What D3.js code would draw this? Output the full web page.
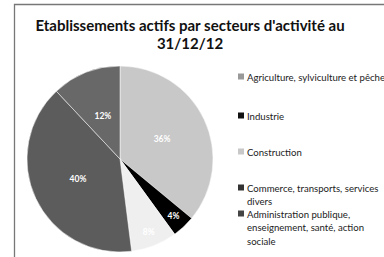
<!DOCTYPE html>
<html>
  <head>
    <meta charset="utf-8" />
    <title>Etablissements actifs</title>
    <style>
      body { margin: 0; background: #fff; font-family: 'Lato', sans-serif; }
      .title { font-weight: 700; font-size: 15px; fill: #111; }
      .legend text { font-size: 9.6px; fill: #222; }
      .pct { font-size: 8.5px; font-weight: 700; fill: #fff; }
    </style>
    <script src="https://d3js.org/d3.v7.min.js"></script>
  </head>
  <body>
    <div id="chart"></div>
    <script>
      const categories = [
        "Agriculture, sylviculture et pêche",
        "Industrie",
        "Construction",
        "Commerce, transports, services divers",
        "Administration publique, enseignement, santé, action sociale"
      ];
      const values = [36, 4, 8, 40, 12];
      const legendLines = [
        ["Agriculture, sylviculture et pêche"],
        ["Industrie"],
        ["Construction"],
        ["Commerce, transports, services", "divers"],
        ["Administration publique,", "enseignement, santé, action", "sociale"]
      ];

      const width = 384, height = 257;
      const cx = 120, cy = 159, r = 93;

      // slice shades: [inner, outer]
      const sliceShades = [["#b0b0b0", "#c8c8c8"], ["#050505", "#000"], ["#ffffff", "#efefef"],
                           ["#747474", "#5c5c5c"], ["#7c7c7c", "#686868"]];
      const legendColors = ["#999", "#111", "#c8c8c8", "#333", "#444"];

      const svg = d3.select("#chart").append("svg")
        .attr("width", width).attr("height", height);

      // outer border (chart area frame)
      svg.append("path")
        .attr("d", `M14.5,${height} V4.5 H${width}`)
        .attr("fill", "none").attr("stroke", "#777").attr("stroke-width", 1.3);

      svg.append("text").attr("class", "title")
        .attr("x", 190).attr("y", 31).attr("text-anchor", "middle")
        .text("Etablissements actifs par secteurs d'activité au");
      svg.append("text").attr("class", "title")
        .attr("x", 190).attr("y", 49).attr("text-anchor", "middle")
        .text("31/12/12");

      const defs = svg.append("defs");
      sliceShades.forEach((s, i) => {
        const g = defs.append("radialGradient").attr("id", "g" + i)
          .attr("gradientUnits", "userSpaceOnUse")
          .attr("cx", cx).attr("cy", cy).attr("r", r);
        g.append("stop").attr("offset", "0%").attr("stop-color", s[0]);
        g.append("stop").attr("offset", "100%").attr("stop-color", s[1]);
      });

      const pie = d3.pie().sort(null).value(d => d);
      const arcs = pie(values);
      const arc = d3.arc().innerRadius(0).outerRadius(r);

      const g = svg.append("g").attr("transform", `translate(${cx},${cy})`);
      g.selectAll("path").data(arcs).enter().append("path")
        .attr("d", arc)
        .attr("fill", (d, i) => `url(#g${i})`)
        .attr("stroke", "#fff").attr("stroke-width", 0.5);

      g.selectAll("text").data(arcs).enter().append("text")
        .attr("class", "pct")
        .attr("text-anchor", "middle")
        .attr("dy", "0.35em")
        .attr("transform", d => {
          const k = d.data < 10 ? 0.84 : 0.5;
          const a = d3.arc().innerRadius(r * k).outerRadius(r * k);
          return `translate(${a.centroid(d)})`;
        })
        .text(d => d.data + "%");

      const legend = svg.append("g").attr("class", "legend");
      const rowY = [77, 116, 152, 188, 214];
      legendLines.forEach((lines, i) => {
        const row = legend.append("g").attr("transform", `translate(238,${rowY[i]})`);
        row.append("rect").attr("x", 0).attr("y", -3.5).attr("width", 6).attr("height", 6)
          .attr("fill", legendColors[i]);
        lines.forEach((t, j) => {
          row.append("text").attr("x", 9).attr("y", 3.5 + j * 13.5).text(t);
        });
      });
    </script>
  </body>
</html>
